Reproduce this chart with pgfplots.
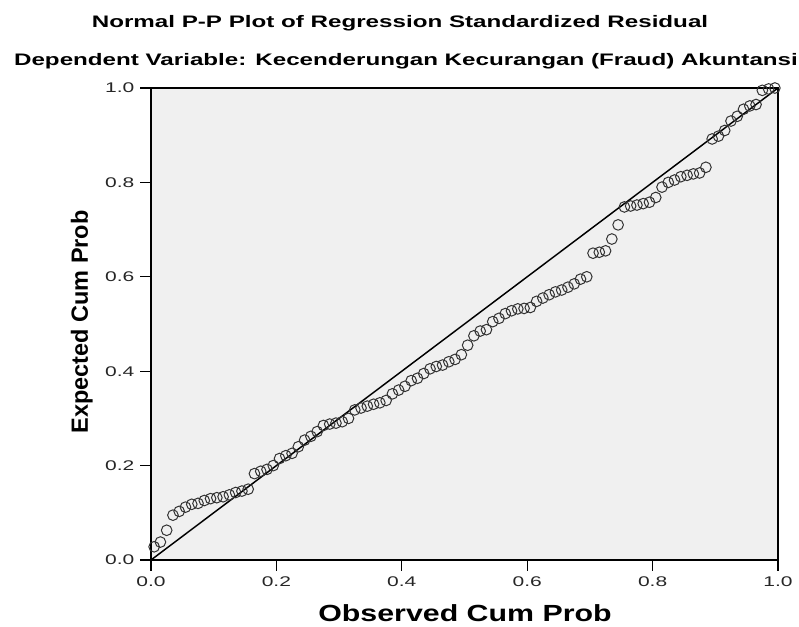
\documentclass[border=0pt]{standalone}
\usepackage{pgfplots}
\pgfplotsset{compat=1.18}
\usepackage{fontspec}
\setmainfont{Liberation Sans}
\definecolor{plotbg}{HTML}{F0F0F0}
\begin{document}
\begin{tikzpicture}
\path[use as bounding box] (-113.25pt,-50.25pt) rectangle (486pt,420pt);
\begin{axis}[
  at={(0,0)}, anchor=south west,
  scale only axis, width=470.25pt, height=354pt,
  xmin=0, xmax=1, ymin=0, ymax=1,
  axis background/.style={fill=plotbg},
  axis line style={line width=1pt, black},
  xtick={0,0.2,0.4,0.6,0.8,1}, ytick={0,0.2,0.4,0.6,0.8,1},
  xticklabels={\scalebox{1.5}[1]{0.0},\scalebox{1.5}[1]{0.2},\scalebox{1.5}[1]{0.4},\scalebox{1.5}[1]{0.6},\scalebox{1.5}[1]{0.8},\scalebox{1.5}[1]{1.0}},
  yticklabels={\scalebox{1.5}[1]{0.0},\scalebox{1.5}[1]{0.2},\scalebox{1.5}[1]{0.4},\scalebox{1.5}[1]{0.6},\scalebox{1.5}[1]{0.8},\scalebox{1.5}[1]{1.0}},
  tick align=outside, tick pos=left,
  major tick length=8pt,
  tick style={line width=1pt, black},
  ticklabel style={font=\fontsize{10.5}{12}\selectfont, text=black!85},
  xticklabel style={yshift=-1pt},
  yticklabel style={xshift=-1pt},
  clip=false,
]
\addplot[black, line width=1.1pt, forget plot] coordinates {(0,0) (1,1)};
\addplot[only marks, mark=o, mark size=4pt, mark options={line width=0.75pt, draw=black!80}] coordinates {
(0.005,0.028) (0.015,0.038) (0.025,0.063) (0.035,0.095) (0.045,0.103)
(0.055,0.112) (0.065,0.118) (0.075,0.120) (0.085,0.126) (0.095,0.130)
(0.105,0.132) (0.115,0.134) (0.125,0.138) (0.135,0.143) (0.145,0.146)
(0.155,0.150) (0.165,0.183) (0.175,0.188) (0.185,0.192) (0.195,0.200)
(0.205,0.215) (0.215,0.221) (0.225,0.226) (0.235,0.240) (0.245,0.254)
(0.255,0.262) (0.265,0.272) (0.275,0.285) (0.285,0.288) (0.295,0.290)
(0.305,0.293) (0.315,0.300) (0.325,0.318) (0.335,0.322) (0.345,0.326)
(0.355,0.330) (0.365,0.333) (0.375,0.338) (0.385,0.352) (0.395,0.360)
(0.405,0.368) (0.415,0.380) (0.425,0.385) (0.435,0.395) (0.445,0.405)
(0.455,0.410) (0.465,0.413) (0.475,0.420) (0.485,0.425) (0.495,0.435)
(0.505,0.455) (0.515,0.475) (0.525,0.485) (0.535,0.488) (0.545,0.505)
(0.555,0.512) (0.565,0.522) (0.575,0.528) (0.585,0.532) (0.595,0.533)
(0.605,0.535) (0.615,0.548) (0.625,0.555) (0.635,0.562) (0.645,0.568)
(0.655,0.572) (0.665,0.578) (0.675,0.585) (0.685,0.595) (0.695,0.600)
(0.705,0.650) (0.715,0.652) (0.725,0.655) (0.735,0.680) (0.745,0.710)
(0.755,0.748) (0.765,0.750) (0.775,0.752) (0.785,0.755) (0.795,0.758)
(0.805,0.768) (0.815,0.790) (0.825,0.800) (0.835,0.805) (0.845,0.812)
(0.855,0.815) (0.865,0.818) (0.875,0.820) (0.885,0.832) (0.895,0.892)
(0.905,0.898) (0.915,0.910) (0.925,0.930) (0.935,0.940) (0.945,0.955)
(0.955,0.962) (0.965,0.965) (0.975,0.995) (0.985,0.998) (0.995,1.000)
};
\end{axis}
\node[anchor=base, font=\bfseries\fontsize{12.5}{14}\selectfont] at (186.75pt,399pt) {\scalebox{1.45}[1]{Normal P-P Plot of Regression Standardized Residual}};
\node[anchor=base, font=\bfseries\fontsize{12.5}{14}\selectfont] at (191.25pt,370.5pt) {\scalebox{1.45}[1]{Dependent Variable: Kecenderungan Kecurangan (Fraud) Akuntansi}};
\node[anchor=base, font=\bfseries\fontsize{17.5}{20}\selectfont] at (235.5pt,-46.5pt) {\scalebox{1.3}[1]{Observed Cum Prob}};
\node[anchor=base, font=\bfseries\fontsize{17.6}{20}\selectfont, rotate=90] at (-47.25pt,178.5pt) {Expected Cum Prob};
\end{tikzpicture}
\end{document}
